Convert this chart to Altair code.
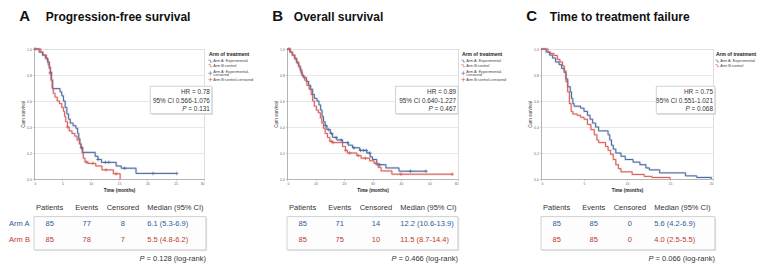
import altair as alt
import pandas as pd

# ---------------- chart texts ----------------
panel_letters = ["A", "B", "C"]
panel_titles = ["Progression-free survival", "Overall survival", "Time to treatment failure"]
x_max = [30, 60, 20]
x_ticks = [[0, 5, 10, 15, 20, 25, 30], [0, 10, 20, 30, 40, 50, 60], [0, 5, 10, 15, 20]]
legend_title = "Arm of treatment"
arm_keys = ["Arm A: Experimental", "Arm B:control"]
censor_keys = ["Arm A: Experimental-censored", "Arm B:control-censored"]

# ---------------- Kaplan-Meier steps (months, survival after step) ----------------
pfs_a_time = [0, 0.9, 1.5, 2.0, 2.4, 2.7, 2.9, 3.1, 3.3, 4.6, 4.9, 5.2, 5.5, 5.8, 6.1, 6.4, 6.9, 7.4, 7.7, 7.9,
              8.1, 8.3, 8.6, 10.8, 11.3, 11.9, 14.5, 15.4, 18.0]
pfs_a_surv = [1.0, 0.976, 0.953, 0.93, 0.90, 0.86, 0.82, 0.76, 0.695, 0.67, 0.64, 0.60, 0.55, 0.50, 0.46, 0.43,
              0.41, 0.39, 0.35, 0.31, 0.27, 0.24, 0.205, 0.175, 0.15, 0.128, 0.10, 0.083, 0.043]
pfs_a_censor = [2.9, 8.4, 11.3, 12.6, 13.2, 16.0, 21.0, 25.2]

pfs_b_time = [0, 1.2, 1.6, 2.2, 2.5, 2.7, 2.9, 3.0, 3.2, 3.4, 3.7, 4.1, 4.5, 4.9, 5.2, 5.4, 5.6, 5.9, 6.2, 6.7,
              7.2, 7.6, 8.0, 8.3, 8.5, 8.7, 9.0, 9.5, 10.9, 12.0, 14.0, 15.2]
pfs_b_surv = [1.0, 0.976, 0.953, 0.92, 0.88, 0.85, 0.81, 0.76, 0.70, 0.66, 0.63, 0.60, 0.58, 0.55, 0.52, 0.48,
              0.44, 0.40, 0.37, 0.35, 0.33, 0.30, 0.27, 0.24, 0.20, 0.16, 0.13, 0.12, 0.10, 0.07, 0.04, 0.0]
pfs_b_censor = [0.2, 2.9, 5.9, 9.3, 10.4, 12.7, 14.5]

os_a_time = [0, 1.0, 1.8, 2.6, 3.3, 4.0, 4.6, 5.2, 5.8, 6.8, 7.6, 8.3, 9.0, 9.6, 10.5, 11.2, 11.8, 12.3, 12.8,
             13.4, 14.0, 15.2, 16.0, 17.5, 19.5, 21.5, 23.0, 25.5, 28.0, 29.2, 30.0, 31.5, 34.7, 39.3]
os_a_surv = [1.0, 0.976, 0.953, 0.93, 0.90, 0.87, 0.84, 0.80, 0.78, 0.75, 0.72, 0.69, 0.65, 0.62, 0.60, 0.57,
             0.53, 0.48, 0.44, 0.41, 0.38, 0.35, 0.32, 0.30, 0.28, 0.26, 0.24, 0.22, 0.20, 0.17, 0.15, 0.11,
             0.085, 0.06]
os_a_censor = [13.6, 14.6, 15.6, 17.2, 19.0, 21.3, 23.5, 25.8, 26.8, 27.8, 29.0, 32.5, 43.3, 48.8]

os_b_time = [0, 1.2, 2.0, 2.8, 3.5, 4.2, 4.8, 5.4, 6.2, 7.0, 7.8, 8.5, 9.0, 9.6, 10.3, 11.0, 11.7, 12.2, 12.8,
             13.4, 14.2, 15.0, 16.0, 19.5, 20.5, 21.2, 24.5, 26.0, 29.0, 30.5, 32.0, 33.0, 36.8]
os_b_surv = [1.0, 0.976, 0.953, 0.92, 0.89, 0.86, 0.82, 0.79, 0.76, 0.72, 0.69, 0.65, 0.60, 0.56, 0.53, 0.51,
             0.47, 0.43, 0.39, 0.35, 0.32, 0.29, 0.28, 0.25, 0.22, 0.20, 0.18, 0.16, 0.14, 0.12, 0.09, 0.062,
             0.037]
os_b_censor = [0.8, 15.5, 16.2, 20.6, 22.0, 25.0, 27.5, 31.2, 40.0, 58.0]

ttf_a_time = [0, 0.6, 1.0, 1.35, 1.7, 2.1, 2.4, 2.7, 2.9, 3.1, 3.4, 3.55, 3.7, 3.85, 4.6, 5.0, 5.4, 5.7, 6.0,
              6.35, 6.7, 7.8, 8.0, 8.2, 8.4, 8.7, 9.3, 9.8, 10.7, 11.5, 12.2, 12.6, 13.8, 16.8, 18.1, 19.8]
ttf_a_surv = [1.0, 0.976, 0.953, 0.93, 0.90, 0.88, 0.85, 0.82, 0.77, 0.71, 0.67, 0.62, 0.58, 0.56, 0.545, 0.52,
              0.49, 0.46, 0.43, 0.40, 0.37, 0.34, 0.30, 0.26, 0.23, 0.20, 0.175, 0.15, 0.13, 0.11, 0.085, 0.07,
              0.047, 0.024, 0.012, 0.0]
ttf_a_censor = []

ttf_b_time = [0, 0.8, 1.1, 1.5, 1.9, 2.2, 2.5, 2.7, 2.9, 3.1, 3.3, 3.5, 3.7, 4.2, 4.6, 5.0, 5.4, 5.8, 6.2, 6.5,
              6.7, 7.5, 7.8, 8.1, 8.4, 8.7, 9.0, 9.3, 10.6, 12.0, 12.9, 15.0]
ttf_b_surv = [1.0, 0.976, 0.965, 0.95, 0.92, 0.90, 0.87, 0.83, 0.75, 0.67, 0.58, 0.52, 0.50, 0.49, 0.475, 0.46,
              0.42, 0.38, 0.34, 0.30, 0.28, 0.25, 0.22, 0.19, 0.15, 0.11, 0.08, 0.055, 0.035, 0.02, 0.012, 0.0]
ttf_b_censor = []

# ---------------- statistics & tables ----------------
hr_vals = ["0.78", "0.89", "0.75"]
ci_vals = ["0.566-1.076", "0.640-1.227", "0.551-1.021"]
p_cox = ["0.131", "0.467", "0.068"]
p_logrank = ["0.128", "0.466", "0.066"]
table_headers = ["Patients", "Events", "Censored", "Median (95% CI)"]
row_labels = ["Arm A", "Arm B"]
patients = [[85, 85], [85, 85], [85, 85]]
events = [[77, 78], [71, 75], [85, 85]]
censored = [[8, 7], [14, 10], [0, 0]]
medians = [["6.1 (5.3-6.9)", "5.5 (4.8-6.2)"],
           ["12.2 (10.6-13.9)", "11.5 (8.7-14.4)"],
           ["5.6 (4.2-6.9)", "4.0 (2.5-5.5)"]]

# ---------------- styling / layout (not data) ----------------
FONT = "Liberation Sans"
BLUE, RED = "#46689f", "#d85a55"
BLUE_T, RED_T = "#2e5a99", "#c0392b"
STEP = "M-1,-0.5H0V0.5H1"
PLUS = "M-1,0H1M0,-1V1"
SX, SY = 0.977, 0.98
PH = 130
widths = [170, 171, 172]
title_dx = [12, 7, 9]
hr_box = [(119, 182), (111, 175), (118, 178)]
tab_right = [176, 175, 178]
legend_rows_y = [12.3, 17.0, 23.0, 31.2]


def px(v):
    return round(v * SX, 2)


def py(v):
    return round(v * SY, 2)


def step_at(times, surv, t):
    v = surv[0]
    for ti, si in zip(times, surv):
        if ti <= t:
            v = si
        else:
            break
    return v


def curve_df(arms, cens):
    rows = []
    for key, (times, surv), c in zip(arm_keys, arms, cens):
        for t, s in zip(times, surv):
            rows.append(dict(t=t, s=s, key=key))
        if c and surv[-1] > 0 and max(c) > times[-1]:
            rows.append(dict(t=max(c), s=surv[-1], key=key))
    return pd.DataFrame(rows)


def censor_df(arms, cens):
    rows = []
    for key, (times, surv), c in zip(censor_keys, arms, cens):
        for t in c:
            rows.append(dict(t=t, s=step_at(times, surv, t), key=key))
    return pd.DataFrame(rows, columns=["t", "s", "key"])


one = pd.DataFrame({"v": [0]})


def txt(df, field, x, y, **kw):
    style = dict(font=FONT, baseline="middle", align="left", fontSize=7.5, color="#333")
    style.update(kw)
    return alt.Chart(df).mark_text(**style).encode(
        text=alt.Text(f"{field}:N"), x=alt.value(x), y=alt.value(y))


def box(x0, x1, y0, y1, fill):
    shadow = alt.Chart(one).mark_rect(fill="#e2e2e2").encode(
        x=alt.value(x0 + 1.2), x2=alt.value(x1 + 1.2), y=alt.value(y0 + 1.2), y2=alt.value(y1 + 1.2))
    main = alt.Chart(one).mark_rect(fill=fill, stroke="#c6c6c6", strokeWidth=0.8).encode(
        x=alt.value(x0), x2=alt.value(x1), y=alt.value(y0), y2=alt.value(y1))
    return [shadow, main]


def make_panel(i, arms, cens, show_rows):
    W = widths[i]
    has_c = sum(len(c) for c in cens) > 0
    keys = arm_keys + (censor_keys if has_c else [])
    key_colors = [BLUE, RED, BLUE, RED][:len(keys)]
    key_shapes = [STEP, STEP, PLUS, PLUS][:len(keys)]
    cscale = alt.Scale(domain=keys, range=key_colors)
    xaxis = alt.Axis(values=x_ticks[i], format="d", title="Time (months)", titleFontSize=4.6,
                     titleFontWeight="bold", titleColor="#222", titlePadding=2.5, labelFontSize=3.4,
                     labelColor="#666", labelPadding=1.2, tickSize=1.5, tickColor="#999", tickWidth=0.5,
                     domainColor="#999", domainWidth=0.6, grid=False, labelFont=FONT, titleFont=FONT)
    yaxis = alt.Axis(values=[0, 0.2, 0.4, 0.6, 0.8, 1.0], format=".1f", title="Cum survival",
                     titleFontSize=4.6, titleFontWeight="normal", titleColor="#333", titlePadding=1,
                     labelFontSize=3.4, labelColor="#666", labelPadding=1.2, tickSize=1.5, tickColor="#999",
                     tickWidth=0.5, domainColor="#999", domainWidth=0.6, grid=True, gridColor="#e2e2e2",
                     gridWidth=0.8, labelFont=FONT, titleFont=FONT)
    xenc = alt.X("t:Q", scale=alt.Scale(domain=[0, x_max[i]], nice=False), axis=xaxis)
    yenc = alt.Y("s:Q", scale=alt.Scale(domain=[0, 1], nice=False), axis=yaxis)
    cdf = curve_df(arms, cens)
    layers = []
    layers.append(alt.Chart(cdf).mark_line(interpolate="step-after", strokeWidth=2.4, opacity=0.18).encode(
        x=xenc, y=yenc, color=alt.Color("key:N", scale=cscale, legend=None)))
    layers.append(alt.Chart(cdf).mark_line(interpolate="step-after", strokeWidth=1.0).encode(
        x=xenc, y=yenc, color=alt.Color("key:N", scale=cscale, legend=None)))
    if has_c:
        layers.append(alt.Chart(censor_df(arms, cens)).mark_point(
            filled=False, size=13, strokeWidth=0.7, opacity=1, shape=PLUS).encode(
            x=xenc, y=yenc, color=alt.Color("key:N", scale=cscale, legend=None)))

    # legend (drawn as marks)
    ldf = pd.DataFrame({"t": [legend_title]})
    layers.append(txt(ldf, "t", px(179), py(5), fontSize=5.0, fontWeight="bold", color="#222"))
    for k, key in enumerate(keys):
        kd = pd.DataFrame({"lab": [key.replace("Experimental-", "Experimental-\n")]})
        ky = py(legend_rows_y[k])
        two = "\n" in kd["lab"][0]
        layers.append(alt.Chart(kd).mark_point(filled=False, size=16, strokeWidth=0.6, opacity=1,
                                               shape=key_shapes[k], color=key_colors[k]).encode(
            x=alt.value(px(180.5)), y=alt.value(ky + (1.7 if two else 0))))
        layers.append(txt(kd, "lab", px(183.5), ky, fontSize=3.8, color="#444", lineBreak="\n",
                          lineHeight=3.8))

    # panel heading
    tdf = pd.DataFrame({"letter": [panel_letters[i]], "title": [panel_titles[i]]})
    layers.append(txt(tdf, "letter", px(-15), py(-29), baseline="alphabetic", fontSize=15,
                      fontWeight="bold", color="#111"))
    layers.append(txt(tdf, "title", px(title_dx[i]), py(-29), baseline="alphabetic", fontSize=12,
                      fontWeight="bold", color="#111"))

    # hazard ratio box
    bx0, bx1 = hr_box[i]
    layers += box(px(bx0), px(bx1), py(38), py(66), "white")
    hdf = pd.DataFrame({"hr": ["HR = " + hr_vals[i]], "ci": ["95% CI " + ci_vals[i]],
                        "p": ["= " + p_cox[i]], "pl": ["P"]})
    xr = px(bx1 - 2)
    layers.append(txt(hdf, "hr", xr, py(44), align="right", fontSize=6.4))
    layers.append(txt(hdf, "ci", xr, py(53), align="right", fontSize=6.4))
    layers.append(txt(hdf, "p", xr, py(61), align="right", fontSize=6.4))
    layers.append(txt(hdf, "pl", xr - 23.3, py(61), align="right", fontSize=6.4, fontStyle="italic"))

    # summary table
    tr = tab_right[i]
    layers += box(0, px(tr), py(171), py(205), "#fdfdfd")
    col_x = [16, 54, 91, 116]
    for j, h in enumerate(table_headers):
        hd = pd.DataFrame({"h": [h]})
        layers.append(txt(hd, "h", px(col_x[j]), py(162), align="left" if j == 3 else "center"))
    for r in range(2):
        color = BLUE_T if r == 0 else RED_T
        y = py(179 if r == 0 else 195)
        rd = pd.DataFrame({"pat": [str(patients[i][r])], "ev": [str(events[i][r])],
                           "ce": [str(censored[i][r])], "med": [medians[i][r]], "lab": [row_labels[r]]})
        for j, f in enumerate(["pat", "ev", "ce", "med"]):
            layers.append(txt(rd, f, px(col_x[j]), y, align="left" if j == 3 else "center", color=color))
        if show_rows:
            layers.append(txt(rd, "lab", px(-25.5), y, color=color))
    pdf = pd.DataFrame({"p": ["= " + p_logrank[i] + " (log-rank)"], "pl": ["P"]})
    layers.append(txt(pdf, "p", px(tr), py(214), align="right"))
    layers.append(txt(pdf, "pl", px(tr) - 61.5, py(214), align="right", fontStyle="italic"))

    return alt.layer(*layers).properties(width=W, height=PH)


pA = make_panel(0, [(pfs_a_time, pfs_a_surv), (pfs_b_time, pfs_b_surv)], [pfs_a_censor, pfs_b_censor], True)
pB = make_panel(1, [(os_a_time, os_a_surv), (os_b_time, os_b_surv)], [os_a_censor, os_b_censor], False)
pC = make_panel(2, [(ttf_a_time, ttf_a_surv), (ttf_b_time, ttf_b_surv)], [ttf_a_censor, ttf_b_censor], False)

chart = alt.hconcat(pA, pB, pC, spacing=83, bounds="flush").resolve_scale(
    x="independent", y="independent", color="independent"
).properties(
    padding={"left": 0, "top": 0, "right": 0, "bottom": 0}
).configure_view(stroke=None).configure(font=FONT)

chart.save("out.html", embed_options={"renderer": "svg", "actions": False})
